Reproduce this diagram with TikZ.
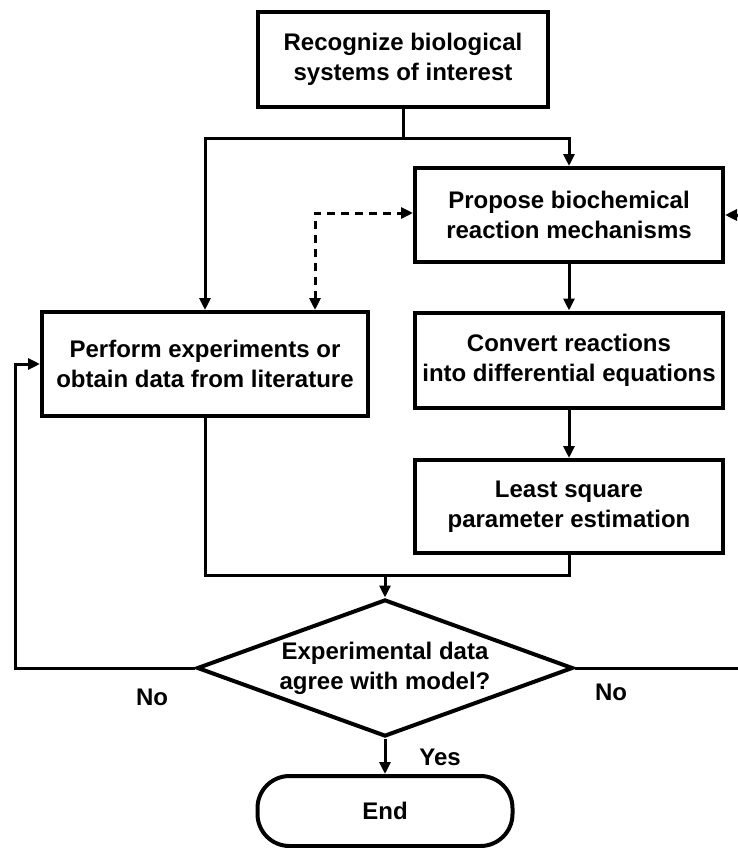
\documentclass[tikz,border=0pt]{standalone}
\usepackage{fontspec}
\setmainfont{Liberation Sans}
\usetikzlibrary{arrows.meta,shapes.geometric}
\tikzset{
  stepbox/.style={draw, line width=4pt, align=center, inner sep=0pt,
    font=\fontsize{24}{30}\selectfont\bfseries},
  conn/.style={line width=3pt},
  arr/.style={conn, -{Triangle[length=12pt,width=11pt]}},
  dasharr/.style={conn, dash pattern=on 8pt off 6pt, {Triangle[length=12pt,width=11pt]}-{Triangle[length=12pt,width=11pt]}},
  lbl/.style={font=\fontsize{24}{30}\selectfont\bfseries, inner sep=0pt}
}
\begin{document}
\begin{tikzpicture}[x=1pt,y=-1pt]
\useasboundingbox (0,0) rectangle (738,848);
\node[stepbox, minimum width=290pt, minimum height=95pt] (top) at (403,59.5) {Recognize biological\\systems of interest};
\node[stepbox, minimum width=308pt, minimum height=94pt] (propose) at (569,215) {Propose biochemical\\reaction mechanisms};
\node[stepbox, minimum width=326pt, minimum height=104pt] (perform) at (205,364) {Perform experiments or\\obtain data from literature};
\node[stepbox, minimum width=308pt, minimum height=95pt] (convert) at (569,360) {Convert reactions\\into differential equations};
\node[stepbox, minimum width=308pt, minimum height=93pt] (least) at (569,506.5) {Least square\\parameter estimation};
\node[stepbox, diamond, shape aspect=2.74, minimum width=376pt, minimum height=137pt] (diam) at (385,668) {Experimental data\\agree with model?};
\node[stepbox, rounded corners=32pt, minimum width=255pt, minimum height=70pt] (end) at (385,811) {End};

\coordinate (split) at (403,138);
\coordinate (dtop) at (315,213);
\coordinate (merge) at (385,575);
\coordinate (lp) at (15,668);
\coordinate (rp) at (748,668);

\draw[conn] (top.south) -- (split);
\draw[arr] (split) -| (perform.north);
\draw[arr] (split) -| (propose.north);
\draw[dasharr] (dtop |- perform.north) -- (dtop) -- (propose.west |- dtop);
\draw[arr] (propose.south) -- (convert.north);
\draw[arr] (convert.south) -- (least.north);
\draw[conn] (perform.south) |- (least.south |- merge) -- (least.south);
\draw[arr] (merge) -- (diam.north);
\draw[arr] (diam.west) -- (lp) |- (perform.west);
\draw[arr] (diam.east) -- (rp) |- (propose.east);
\draw[arr] (diam.south) -- (end.north);

\node[lbl] (no1) at (152,697) {No};
\node[lbl] (no2) at (611,692) {No};
\node[lbl] (yes) at (440,757) {Yes};
\end{tikzpicture}
\end{document}
